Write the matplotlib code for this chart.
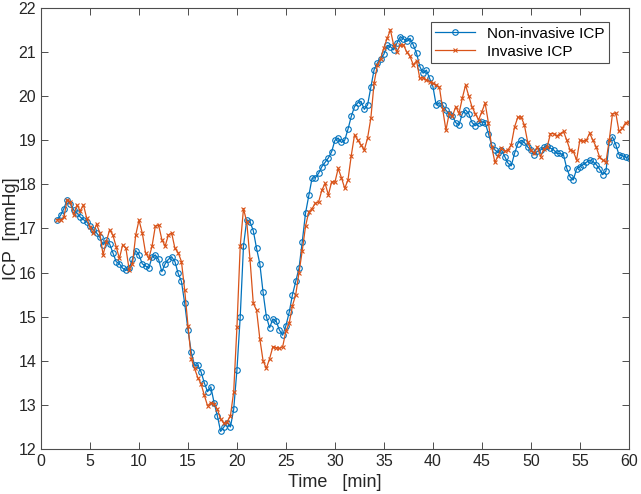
import numpy as np
import matplotlib.pyplot as plt

plt.rcParams['font.family'] = ['Liberation Sans', 'DejaVu Sans']

# samples every 20 s, starting at 1:40
t_start = 5 / 3
t_step = 1 / 3

non_invasive = [
    17.2,
    17.3, 17.45, 17.65,
    17.55, 17.42, 17.35,
    17.26, 17.2, 17.15,
    17.05, 16.97, 16.9,
    16.8, 16.63, 16.74,
    16.65, 16.45, 16.25,
    16.2, 16.1, 16.05,
    16.1, 16.3, 16.5,
    16.4, 16.2, 16.15,
    16.1, 16.35, 16.4,
    16.3, 16.02, 16.2,
    16.3, 16.36, 16.25,
    15.98, 15.8, 15.3,
    14.7, 14.2, 13.9,
    13.9, 13.75, 13.5,
    13.3, 13.41, 13.05,
    12.75, 12.4, 12.5,
    12.6, 12.5, 12.9,
    13.8, 15.0, 16.6,
    17.2, 17.15, 16.95,
    16.55, 16.2, 15.55,
    15.0, 14.75, 14.95,
    14.9, 14.7, 14.58,
    14.8, 15.1, 15.5,
    15.8, 16.1, 16.7,
    17.35, 17.75, 18.14,
    18.15, 18.25, 18.4,
    18.5, 18.6, 18.74,
    19.0, 19.05, 18.95,
    19.0, 19.25, 19.54,
    19.76, 19.85, 19.88,
    19.7, 19.8, 20.2,
    20.6, 20.75, 20.85,
    20.95, 21.15, 21.12,
    21.05, 21.2, 21.35,
    21.3, 21.24, 21.31,
    21.16, 20.97, 20.67,
    20.52, 20.59, 20.4,
    20.22, 19.8, 19.85,
    19.8, 19.68, 19.6,
    19.55, 19.4, 19.35,
    19.6, 19.69, 19.6,
    19.4, 19.33, 19.38,
    19.42, 19.4, 19.15,
    18.89, 18.78, 18.72,
    18.78, 18.63, 18.48,
    18.42, 18.7, 18.92,
    19.0, 18.95, 18.85,
    18.78, 18.67, 18.75,
    18.78, 18.84, 18.87,
    18.82, 18.78, 18.7,
    18.7, 18.67, 18.36,
    18.17, 18.1, 18.35,
    18.4, 18.45, 18.5,
    18.55, 18.52, 18.45,
    18.35, 18.22, 18.3,
    18.95, 19.08, 18.9,
    18.67, 18.65, 18.62,
    18.59,
]

invasive = [
    17.2,
    17.19, 17.25, 17.65,
    17.6, 17.31, 17.53,
    17.4, 17.53, 17.23,
    17.04, 16.89, 17.1,
    16.9, 16.4, 16.7,
    16.97, 16.85, 16.59,
    16.32, 16.63, 16.55,
    16.06, 16.2, 16.85,
    17.19, 16.9, 16.45,
    16.32, 16.6, 17.05,
    17.08, 16.75, 16.6,
    16.85, 16.9, 16.55,
    16.45, 16.25, 15.6,
    14.8, 14.05, 13.83,
    13.62, 13.48, 13.22,
    12.98, 13.05, 13.02,
    12.9, 12.68, 12.58,
    12.62, 12.75, 13.3,
    14.77, 16.6, 17.45,
    17.15, 16.3, 15.3,
    15.15, 14.5, 14.0,
    13.83, 14.05, 14.32,
    14.3, 14.28, 14.32,
    14.68, 14.85, 15.25,
    15.5, 16.0, 16.5,
    17.05, 17.38, 17.45,
    17.57, 17.6, 17.87,
    18.02, 17.76, 18.06,
    18.05, 18.36, 18.15,
    17.91, 18.1, 18.65,
    19.12, 19.0, 18.89,
    18.78, 19.05, 19.5,
    20.3, 20.7, 20.85,
    21.1, 21.31, 21.5,
    21.15, 21.01, 21.15,
    21.16, 21.0, 20.9,
    20.71, 20.8, 20.4,
    20.42, 20.37, 20.33,
    20.29, 20.25, 20.2,
    19.7, 19.23, 19.61,
    19.55, 19.76, 19.61,
    19.95, 20.25, 20.0,
    19.75, 19.6, 19.46,
    19.65, 19.84, 19.4,
    18.85, 18.5, 18.65,
    18.82, 18.75, 18.78,
    18.9, 19.3, 19.52,
    19.53, 19.35, 18.97,
    18.78, 18.7, 18.85,
    18.63, 18.8, 18.85,
    19.15, 19.15, 19.1,
    19.15, 19.2, 19.0,
    18.78, 18.75, 18.55,
    19.0, 18.98, 19.0,
    19.16, 19.0, 18.85,
    18.63, 18.55, 18.51,
    19.0, 19.6, 19.62,
    19.2, 19.27, 19.4,
    19.42,
]

t = t_start + t_step * np.arange(len(non_invasive))

fig = plt.figure(figsize=(6.41, 4.94), dpi=100)
ax = fig.add_axes([0.064, 0.091, 0.917, 0.893])

ax.plot(t, non_invasive, '-o', color='#0072BD', lw=0.9, ms=4, mfc='none',
        mew=0.8, label='Non-invasive ICP')
ax.plot(t, invasive, '-x', color='#D95319', lw=0.9, ms=3.5, mew=0.8,
        label='Invasive ICP')

ax.set_xlim(0, 60)
ax.set_ylim(12, 22)
ax.set_xticks(np.arange(0, 61, 5))
ax.set_yticks(np.arange(12, 23, 1))
ax.tick_params(direction='in', top=True, right=True, labelsize=11.5,
               labelcolor='#262626', color='#4d4d4d', length=5, width=0.7)
for s in ax.spines.values():
    s.set_color('#4d4d4d')
    s.set_linewidth(0.8)

ax.set_xlabel('Time   [min]', fontsize=13, color='#262626', labelpad=4)
ax.set_ylabel('ICP  [mmHg]', fontsize=13, color='#262626')
ax.yaxis.set_label_coords(-0.036, 0.5)

leg = ax.legend(loc='upper right', bbox_to_anchor=(0.98, 0.985), fontsize=11,
                fancybox=False, edgecolor='#4d4d4d', framealpha=1,
                borderpad=0.3, handlelength=2.6, labelspacing=0.25)
leg.get_frame().set_linewidth(0.8)

fig.savefig('out.png')
